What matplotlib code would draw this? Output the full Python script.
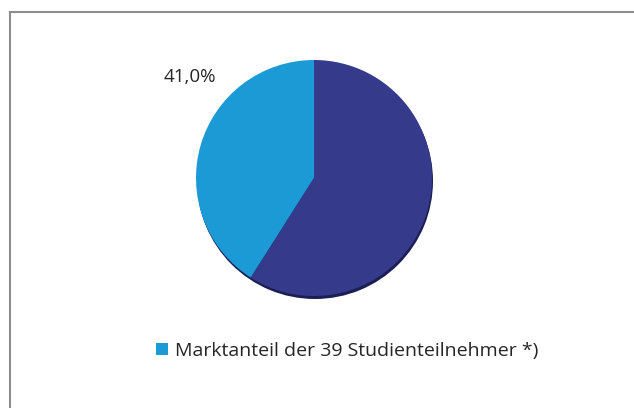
import matplotlib
matplotlib.use("Agg")
import matplotlib.pyplot as plt
from matplotlib.lines import Line2D

# data
labels = ["Marktanteil der 39 Studienteilnehmer *)", "Rest"]
shares = [41.0, 59.0]
colors = ["#1b9ad6", "#353a8a"]

plt.rcParams["font.family"] = ["Open Sans", "DejaVu Sans"]

fig = plt.figure(figsize=(6.34, 4.08), dpi=100)
ax = fig.add_axes([0, 0, 1, 1])

# soft shadow under the pie
ax.pie([1], colors=["#1c1f55"], radius=118, center=(315, 227), frame=True,
       wedgeprops=dict(linewidth=0))

wedges, _ = ax.pie(shares, colors=colors, startangle=90, counterclock=True,
                   radius=118, center=(314, 230), frame=True,
                   wedgeprops=dict(linewidth=0))
ax.set_xlim(0, 634)
ax.set_ylim(0, 408)
ax.set_aspect("equal")
ax.axis("off")

ax.text(190, 331, "41,0%", ha="center", va="center",
        fontsize=13.5, color="#262626")

ax.legend([wedges[0]], [labels[0]], loc="center",
          bbox_to_anchor=(347 / 634, 57 / 408), frameon=False,
          handlelength=0.6, handleheight=0.6, handletextpad=0.35,
          fontsize=14, labelcolor="#262626")

# frame lines at top and left
fig.add_artist(Line2D([9.5 / 634, 9.5 / 634], [0, 1 - 12 / 408], color="#8c8c8c", lw=1.5))
fig.add_artist(Line2D([9.5 / 634, 1], [1 - 12 / 408, 1 - 12 / 408], color="#8c8c8c", lw=1.5))

fig.savefig("out.png", dpi=100)
